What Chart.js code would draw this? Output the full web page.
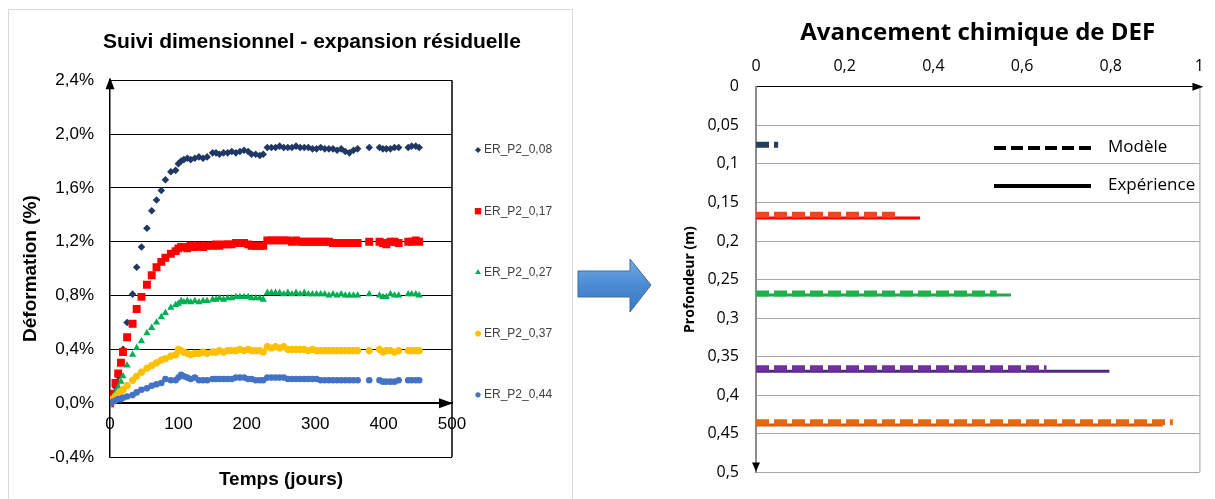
<!DOCTYPE html>
<html>
<head>
<meta charset="utf-8">
<script src="https://cdn.jsdelivr.net/npm/chart.js@4.4.1/dist/chart.umd.min.js"></script>
<style>
  body { margin: 0; background: #fff; width: 1215px; height: 499px; overflow: hidden; position: relative; }
  #panel { position: absolute; left: 8px; top: 9px; width: 563px; height: 520px; border: 1px solid #d9d9d9; }
  #left { position: absolute; left: 10px; top: 0; }
  #right { position: absolute; left: 660px; top: 0; }
  #arrow { position: absolute; left: 575px; top: 255px; z-index: 2; }
</style>
</head>
<body>
<div id="panel"></div>
<canvas id="left" width="604" height="499"></canvas>
<svg id="arrow" width="82" height="62">
  <defs>
    <linearGradient id="g" x1="0" y1="0" x2="0" y2="1">
      <stop offset="0" stop-color="#75abe2"/>
      <stop offset="0.5" stop-color="#4a8bd3"/>
      <stop offset="1" stop-color="#3d7ac0"/>
    </linearGradient>
  </defs>
  <polygon points="3,16 55,16 55,4 76,30 55,57 55,42 3,42" fill="url(#g)" stroke="#3a6ea5" stroke-width="1"/>
</svg>
<canvas id="right" width="555" height="499"></canvas>
<script>
Chart.defaults.font.family = '"Liberation Sans", Arial, sans-serif';
Chart.defaults.color = '#000';

// ---- left chart : suivi dimensionnel ----
const days = [0, 4, 8, 12, 16, 19, 25, 33, 39, 46,
  54, 61, 68, 75, 81, 89, 96, 100, 104, 108,
  113, 118, 124, 130, 136, 142, 150, 155, 160, 166,
  172, 178, 184, 190, 196, 202, 207, 213, 219, 224,
  230, 236, 242, 248, 254, 260, 266, 272, 278, 284,
  290, 296, 302, 308, 314, 320, 326, 332, 338, 344,
  350, 356, 362, 379, 394, 399, 404, 410, 416, 422,
  436, 441, 447, 452];

const er008 = [0.00, 0.05, 0.12, 0.20, 0.30, 0.40, 0.60, 0.81, 1.01, 1.16,
  1.30, 1.43, 1.51, 1.58, 1.66, 1.72, 1.73, 1.78, 1.80, 1.81,
  1.82, 1.81, 1.82, 1.83, 1.82, 1.83, 1.86, 1.86, 1.85, 1.86,
  1.86, 1.87, 1.86, 1.87, 1.88, 1.87, 1.85, 1.85, 1.84, 1.85,
  1.90, 1.90, 1.90, 1.91, 1.90, 1.90, 1.90, 1.91, 1.90, 1.90,
  1.90, 1.89, 1.89, 1.90, 1.89, 1.89, 1.89, 1.88, 1.89, 1.87,
  1.86, 1.88, 1.89, 1.90, 1.90, 1.89, 1.89, 1.89, 1.90, 1.90,
  1.90, 1.91, 1.91, 1.90];
const er017 = [0.00, 0.07, 0.15, 0.22, 0.30, 0.38, 0.49, 0.59, 0.70, 0.79,
  0.88, 0.95, 1.01, 1.05, 1.08, 1.11, 1.13, 1.15, 1.16, 1.16,
  1.15, 1.17, 1.16, 1.17, 1.16, 1.17, 1.17, 1.18, 1.17, 1.18,
  1.18, 1.18, 1.19, 1.19, 1.19, 1.18, 1.17, 1.17, 1.17, 1.17,
  1.21, 1.21, 1.21, 1.21, 1.21, 1.21, 1.20, 1.21, 1.20, 1.20,
  1.20, 1.20, 1.20, 1.20, 1.20, 1.20, 1.19, 1.19, 1.19, 1.19,
  1.19, 1.19, 1.19, 1.20, 1.20, 1.19, 1.18, 1.20, 1.20, 1.19,
  1.20, 1.20, 1.21, 1.20];
const er027 = [0.00, 0.04, 0.08, 0.12, 0.16, 0.20, 0.28, 0.36, 0.41, 0.46,
  0.52, 0.56, 0.60, 0.64, 0.67, 0.71, 0.73, 0.74, 0.76, 0.75,
  0.76, 0.75, 0.76, 0.75, 0.76, 0.76, 0.77, 0.77, 0.78, 0.77,
  0.78, 0.78, 0.79, 0.79, 0.79, 0.79, 0.78, 0.78, 0.78, 0.77,
  0.82, 0.82, 0.82, 0.82, 0.81, 0.82, 0.81, 0.82, 0.81, 0.82,
  0.81, 0.81, 0.81, 0.81, 0.81, 0.80, 0.81, 0.80, 0.81, 0.80,
  0.80, 0.80, 0.80, 0.81, 0.80, 0.79, 0.79, 0.81, 0.80, 0.80,
  0.81, 0.81, 0.81, 0.80];
const er037 = [0.00, 0.03, 0.05, 0.07, 0.09, 0.10, 0.13, 0.17, 0.20, 0.23,
  0.26, 0.28, 0.30, 0.32, 0.33, 0.35, 0.36, 0.40, 0.39, 0.38,
  0.37, 0.36, 0.37, 0.37, 0.38, 0.37, 0.38, 0.38, 0.39, 0.38,
  0.39, 0.39, 0.39, 0.40, 0.39, 0.40, 0.39, 0.39, 0.39, 0.38,
  0.42, 0.41, 0.42, 0.41, 0.42, 0.40, 0.40, 0.40, 0.40, 0.40,
  0.39, 0.40, 0.39, 0.39, 0.39, 0.39, 0.39, 0.39, 0.39, 0.39,
  0.39, 0.39, 0.39, 0.39, 0.40, 0.38, 0.39, 0.39, 0.38, 0.39,
  0.39, 0.39, 0.39, 0.39];
const er044 = [0.00, 0.01, 0.02, 0.03, 0.03, 0.04, 0.05, 0.06, 0.08, 0.10,
  0.11, 0.13, 0.14, 0.15, 0.18, 0.17, 0.17, 0.19, 0.21, 0.20,
  0.19, 0.18, 0.19, 0.17, 0.17, 0.17, 0.18, 0.18, 0.18, 0.18,
  0.18, 0.18, 0.19, 0.19, 0.19, 0.18, 0.18, 0.17, 0.17, 0.17,
  0.19, 0.19, 0.19, 0.19, 0.19, 0.18, 0.18, 0.18, 0.18, 0.18,
  0.18, 0.18, 0.18, 0.17, 0.17, 0.17, 0.17, 0.17, 0.17, 0.17,
  0.17, 0.17, 0.17, 0.17, 0.17, 0.16, 0.16, 0.16, 0.16, 0.17,
  0.17, 0.17, 0.17, 0.17];

const serieLabels = ['ER_P2_0,08', 'ER_P2_0,17', 'ER_P2_0,27', 'ER_P2_0,37', 'ER_P2_0,44'];
const serieValues = [er008, er017, er027, er037, er044];

const serieColors = ['#1f3864', '#ff0000', '#00b050', '#ffc000', '#4472c4'];
const serieMarkers = ['rectRot', 'rect', 'triangle', 'star', 'circle'];
const serieRadius = [3.8, 5.6, 4.2, 3.6, 3.3];

function drawMarker(ctx, style, r, bw, x, y) {
  if (Chart.helpers && Chart.helpers.drawPoint) {
    Chart.helpers.drawPoint(ctx, {pointStyle: style, radius: r, rotation: 0, borderWidth: bw}, x, y);
  } else {
    ctx.beginPath(); ctx.arc(x, y, r, 0, Math.PI * 2); ctx.fill();
  }
}

const legendLeft = {
  id: 'legendLeft',
  afterDraw(chart) {
    const ctx = chart.ctx;
    const x = chart.chartArea.right + 26;
    ctx.save();
    ctx.font = '12px "Liberation Sans", Arial, sans-serif';
    ctx.textBaseline = 'middle';
    chart.data.datasets.forEach((ds, i) => {
      const y = 150 + i * 61.2;
      ctx.fillStyle = ds.backgroundColor;
      ctx.strokeStyle = ds.borderColor;
      ctx.lineWidth = ds.borderWidth;
      drawMarker(ctx, ds.pointStyle, ds.pointRadius * 0.8, ds.borderWidth, x, y);
      ctx.fillStyle = '#404040';
      ctx.fillText(ds.label, x + 6, y);
    });
    ctx.restore();
  }
};

const frameLeft = {
  id: 'frameLeft',
  afterDraw(chart) {
    const ctx = chart.ctx;
    const a = chart.chartArea;
    const y0 = chart.scales.y.getPixelForValue(0);
    ctx.save();
    ctx.strokeStyle = '#000';
    ctx.fillStyle = '#000';
    ctx.lineWidth = 1.5;
    ctx.beginPath();
    ctx.moveTo(a.right, a.top); ctx.lineTo(a.right, a.bottom);
    ctx.stroke();
    // axis arrows
    ctx.beginPath();
    ctx.moveTo(a.left, a.top - 3); ctx.lineTo(a.left - 4.5, a.top + 9); ctx.lineTo(a.left + 4.5, a.top + 9);
    ctx.closePath(); ctx.fill();
    ctx.beginPath();
    ctx.moveTo(a.right + 1, y0); ctx.lineTo(a.right - 13, y0 - 5); ctx.lineTo(a.right - 13, y0 + 5);
    ctx.closePath(); ctx.fill();
    ctx.restore();
  }
};

new Chart(document.getElementById('left'), {
  type: 'scatter',
  data: {
    datasets: serieLabels.map((label, i) => ({
      label: label,
      data: days.map((d, k) => ({x: d, y: serieValues[i][k]})),
      pointStyle: serieMarkers[i],
      pointRadius: serieRadius[i],
      backgroundColor: serieColors[i],
      borderColor: serieColors[i],
      borderWidth: i === 3 ? 2.5 : 0,
      order: 4 - i
    }))
  },
  options: {
    responsive: false,
    animation: false,
    devicePixelRatio: 1,
    layout: { padding: 0 },
    plugins: {
      legend: { display: false },
      tooltip: { enabled: false },
      title: {
        display: true,
        text: 'Suivi dimensionnel - expansion résiduelle',
        font: { size: 21, weight: 'bold' },
        color: '#000',
        padding: { top: 30, bottom: 25 }
      }
    },
    scales: {
      // axis line and tick labels sit on the 0 % line
      x: {
        type: 'linear', min: 0, max: 500, position: { y: 0 },
        ticks: { stepSize: 100, padding: 11, color: '#000', font: { size: 17 } },
        grid: { display: false, drawTicks: false },
        border: { display: true, color: '#000', width: 1.8 },
        afterFit: s => { s.height = 0; }
      },
      // bottom axis only carries the title
      xTitle: {
        type: 'linear', min: 0, max: 500, position: 'bottom',
        ticks: { display: false },
        grid: { display: false, drawTicks: false },
        border: { display: false },
        title: { display: true, text: 'Temps (jours)', font: { size: 19, weight: 'bold' }, color: '#000', padding: { top: 0, bottom: 8 } },
        afterFit: s => { s.height = 42; }
      },
      y: {
        type: 'linear', min: -0.4, max: 2.4,
        ticks: { stepSize: 0.4, padding: 16, color: '#000', font: { size: 17 },
          callback: v => (Math.round(v * 10) / 10).toFixed(1).replace('.', ',') + '%' },
        grid: { color: '#000', lineWidth: 1, drawTicks: false },
        border: { display: true, color: '#000', width: 1.5 },
        title: { display: true, text: 'Déformation (%)', font: { size: 19, weight: 'bold' }, color: '#000', padding: { top: 9, bottom: 0 } },
        afterFit: s => { s.width = 100; }
      },
      // empty right axis keeps room for the legend
      yRoom: {
        type: 'linear', position: 'right', min: -0.4, max: 2.4,
        ticks: { display: false },
        grid: { display: false, drawTicks: false },
        border: { display: false },
        afterFit: s => { s.width = 162; }
      }
    }
  },
  plugins: [legendLeft, frameLeft]
});

// ---- right chart : avancement chimique ----
const depthModel = [0.075, 0.166, 0.268, 0.365, 0.435];
const advModel = [0.05, 0.32, 0.543, 0.655, 0.94];
const depthExp = [0.17, 0.27, 0.369, 0.4385];
const advExp = [0.37, 0.575, 0.797, 0.917];

const modelColors = ['#243f5c', '#f2441f', '#1fb04a', '#7030a0', '#e4680f'];
const expColors = ['#ff0000', '#22a84c', '#4d2a80', '#d65f0d'];

const fontR = '"Open Sans", sans-serif';
const comma = v => Number(v.toFixed(2)).toString().replace('.', ',');

const legendRight = {
  id: 'legendRight',
  afterDraw(chart) {
    const ctx = chart.ctx;
    const x0 = 334, x1 = 431;
    ctx.save();
    ctx.strokeStyle = '#000';
    ctx.lineWidth = 4;
    ctx.setLineDash([12, 5]);
    ctx.beginPath(); ctx.moveTo(x0, 148); ctx.lineTo(x1, 148); ctx.stroke();
    ctx.setLineDash([]);
    ctx.beginPath(); ctx.moveTo(x0, 186); ctx.lineTo(x1, 186); ctx.stroke();
    ctx.fillStyle = '#000';
    ctx.font = '17px ' + fontR;
    ctx.textBaseline = 'middle';
    ctx.fillText('Modèle', 448, 147);
    ctx.fillText('Expérience', 448, 185);
    ctx.restore();
  }
};

const frameRight = {
  id: 'frameRight',
  afterDraw(chart) {
    const ctx = chart.ctx;
    const a = chart.chartArea;
    ctx.save();
    ctx.strokeStyle = '#a0a0a0';
    ctx.lineWidth = 1;
    ctx.beginPath(); ctx.moveTo(a.right + 0.5, a.top); ctx.lineTo(a.right + 0.5, a.bottom); ctx.stroke();
    ctx.fillStyle = '#000';
    ctx.beginPath();
    ctx.moveTo(a.right + 4, a.top); ctx.lineTo(a.right - 7, a.top - 4); ctx.lineTo(a.right - 7, a.top + 4);
    ctx.closePath(); ctx.fill();
    ctx.beginPath();
    ctx.moveTo(a.left, a.bottom - 1); ctx.lineTo(a.left - 4, a.bottom - 10); ctx.lineTo(a.left + 4, a.bottom - 10);
    ctx.closePath(); ctx.fill();
    ctx.restore();
  }
};

const rightSets = [];
depthExp.forEach((d, i) => rightSets.push({
  label: 'Expérience',
  data: [{x: 0, y: d}, {x: advExp[i], y: d}],
  borderColor: expColors[i], borderWidth: 3, pointRadius: 0, order: 2
}));
depthModel.forEach((d, i) => rightSets.push({
  label: 'Modèle',
  data: [{x: 0, y: d}, {x: advModel[i], y: d}],
  borderColor: modelColors[i], borderWidth: 6, borderDash: [13, 5], pointRadius: 0, order: 1
}));

new Chart(document.getElementById('right'), {
  type: 'line',
  data: { datasets: rightSets },
  options: {
    responsive: false,
    animation: false,
    devicePixelRatio: 1,
    layout: { padding: { left: 0, right: 6, top: 0, bottom: 14 } },
    plugins: {
      legend: { display: false },
      tooltip: { enabled: false },
      title: {
        display: true, fullSize: false,
        text: 'Avancement chimique de DEF',
        font: { family: fontR, size: 24, weight: 'bold' },
        color: '#000',
        padding: { top: 19, bottom: 4 }
      }
    },
    scales: {
      x: {
        type: 'linear', position: 'top', min: 0, max: 1,
        ticks: { stepSize: 0.2, padding: 11, color: '#000', font: { family: fontR, size: 16 }, callback: comma },
        grid: { display: false, drawTicks: false },
        border: { display: true, color: '#000', width: 1 },
        afterFit: s => { s.height = 35; }
      },
      y: {
        type: 'linear', reverse: true, min: 0, max: 0.5,
        ticks: { stepSize: 0.05, padding: 17, color: '#000', font: { family: fontR, size: 16 }, callback: comma },
        grid: { color: '#a6a6a6', lineWidth: 1, drawTicks: false },
        border: { display: true, color: '#8c8c8c', width: 2 },
        title: { display: true, text: 'Profondeur (m)', font: { family: fontR, size: 14, weight: 'bold' }, color: '#000', padding: { top: 22, bottom: 0 } },
        afterFit: s => { s.width = 96; }
      }
    }
  },
  plugins: [legendRight, frameRight]
});
</script>
</body>
</html>
